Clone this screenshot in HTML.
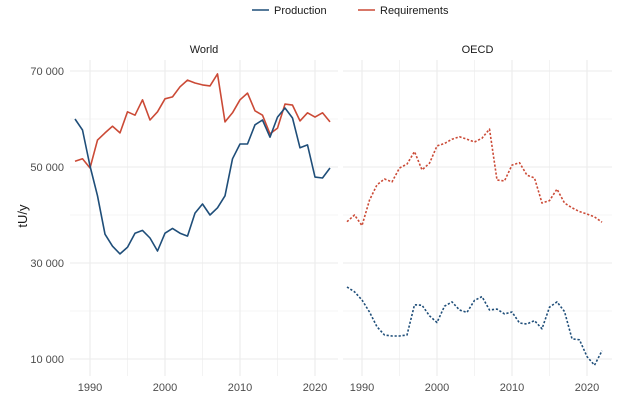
<!DOCTYPE html>
<html><head><meta charset="utf-8"><style>
body{margin:0;background:#fff;font-family:"Liberation Sans",sans-serif}
</style></head><body>
<svg id="c" width="625" height="406" xmlns="http://www.w3.org/2000/svg" font-family="Liberation Sans, sans-serif"></svg>
<script>
const years=[];for(let y=1988;y<=2022;y++)years.push(y);
const worldProduction=[60000,57700,50200,44000,36000,33500,31900,33300,36200,36800,35200,32500,36200,37200,36200,35600,40400,42300,40000,41500,44000,51700,54800,54800,58800,59800,56200,60400,62300,60200,54000,54600,47900,47700,49800];
const worldRequirements=[51200,51700,49800,55600,57100,58500,57100,61500,60800,64000,59800,61500,64200,64600,66700,68100,67500,67100,66900,69400,59400,61300,64000,65400,61700,60800,56900,58100,63100,62900,59600,61300,60400,61300,59400];
const oecdProduction=[25000,24000,22300,19800,16700,15000,14800,14800,15000,21300,21200,19000,17600,21000,21900,20200,19700,22200,23000,20200,20400,19400,19800,17500,17300,18000,16300,20800,21900,19900,14200,14000,10500,8700,11700];
const oecdRequirements=[38600,40000,37800,43100,46300,47500,46900,49800,50600,53200,49400,50800,54400,54900,55800,56300,55800,55200,56000,57900,47300,47100,50400,50900,48300,47700,42500,43000,45400,42500,41500,40700,40200,39600,38500];
const yTicks=[10000,30000,50000,70000];
const yTickLabels=["10 000","30 000","50 000","70 000"];
const xTicks=[1990,2000,2010,2020];

const svg=document.getElementById('c');const NS='http://www.w3.org/2000/svg';
function el(t,a,p){const e=document.createElementNS(NS,t);for(const k in a)e.setAttribute(k,a[k]);(p||svg).appendChild(e);return e;}
const yS=v=>71+(70000-v)*0.0048;
const panels=[{name:'World',x0:70,x1:338,base:90,prod:worldProduction,req:worldRequirements,dash:null},
{name:'OECD',x0:343,x1:612,base:362,prod:oecdProduction,req:oecdRequirements,dash:'2.2,1.8'}];
panels.forEach((p,i)=>{
 const xS=yr=>p.base+(yr-1990)*7.5;
 const g=el('g',{});
 
 
 for(let v=0;v<=80000;v+=10000){const y=yS(v);if(y<60||y>376)continue;const major=yTicks.includes(v);
  el('line',{x1:p.x0,x2:p.x1,y1:y,y2:y,stroke:'#ebebeb','stroke-width':major?1.1:0.6},g);}
 for(let yr=1985;yr<=2025;yr+=5){const x=xS(yr);if(x<p.x0||x>p.x1)continue;
  el('line',{x1:x,x2:x,y1:60,y2:376,stroke:'#ebebeb','stroke-width':xTicks.includes(yr)?1.1:0.6},g);}
 const t=el('text',{x:(p.x0+p.x1)/2,y:53,'text-anchor':'middle','font-size':11,fill:'#1a1a1a'},g);t.textContent=p.name;
 
 xTicks.forEach(yr=>{const tx=el('text',{x:xS(yr),y:391,'text-anchor':'middle','font-size':11,fill:'#4d4d4d'},g);tx.textContent=yr;
  });
 [[p.req,'#cb4a36','requirements'],[p.prod,'#1f4e79','production']].forEach(([arr,col,nm])=>{
  const d=arr.map((v,k)=>(k?'L':'M')+xS(years[k]).toFixed(1)+','+yS(v).toFixed(1)).join('');
  const a={d:d,fill:'none',stroke:col,'stroke-width':1.6,'stroke-linejoin':'round'};if(p.dash)a['stroke-dasharray']=p.dash;
  const l=el('path',a,g);});
});
yTicks.forEach((v,i)=>{const t=el('text',{x:64,y:yS(v)+4,'text-anchor':'end','font-size':11,fill:'#4d4d4d'});t.textContent=yTickLabels[i];
 });
const yt=el('text',{x:0,y:0,transform:'translate(27,216) rotate(-90)','text-anchor':'middle','font-size':13,fill:'#1a1a1a'});yt.textContent='tU/y';

const lg=el('g',{});
[['Production','#1f4e79',252],['Requirements','#cb4a36',358]].forEach(([n,c,x])=>{
 const e=el('g',{},lg);
 el('line',{x1:x,x2:x+17,y1:10,y2:10,stroke:c,'stroke-width':1.6},e);
 const t=el('text',{x:x+22,y:14,'font-size':11,fill:'#1a1a1a'},e);t.textContent=n;});
</script>
</body></html>
